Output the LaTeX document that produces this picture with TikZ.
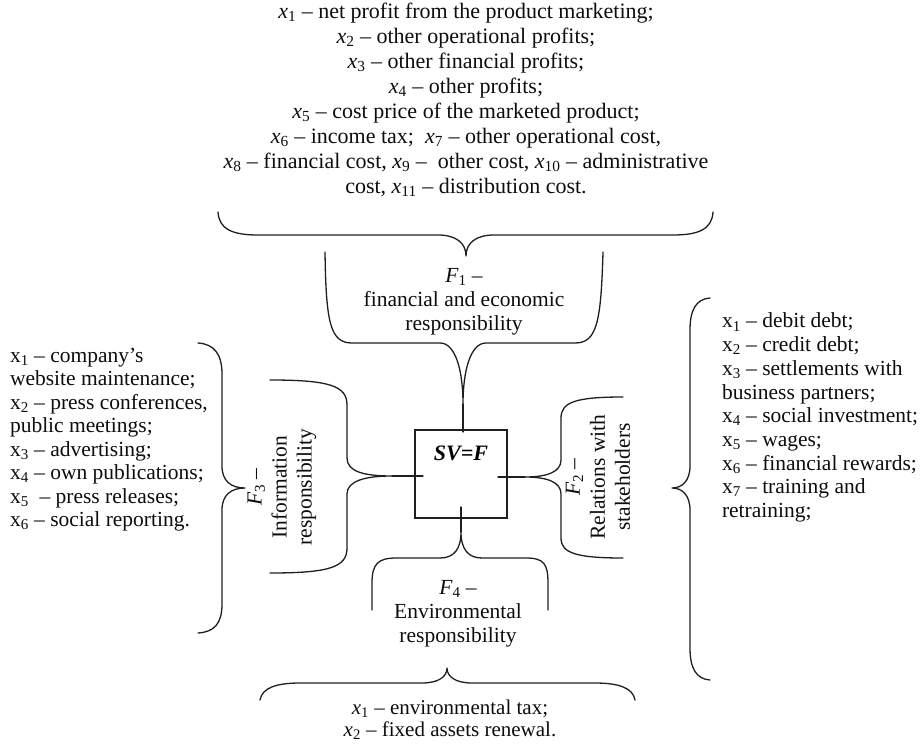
\documentclass[tikz,border=0pt]{standalone}
\usepackage{fontspec}
\setmainfont{Liberation Serif}
% italic and upright indexed variables, factor labels
\newcommand{\vx}[1]{\textit{x}\textsubscript{#1}}
\newcommand{\ux}[1]{x\textsubscript{#1}}
\newcommand{\fv}[1]{\textit{F}\textsubscript{#1}}
\begin{document}
\begin{tikzpicture}[x=1pt,y=-1pt,
  every node/.style={inner sep=0pt, outer sep=0pt},
  txt/.style={font=\fontsize{21.5}{23.5}\selectfont, text=black!95},
  toptxt/.style={font=\fontsize{22}{25}\selectfont, text=black!95},
  curly/.style={line width=1.3pt, draw=black!88, line join=round, line cap=round},
]
\useasboundingbox (0,0) rectangle (920,746);

% central square
\node[draw=black!88, line width=1.3pt, minimum width=92pt, minimum height=88pt] (box) at (461,474) {};
\node[font=\bfseries\itshape\fontsize{22}{26}\selectfont] (sv) at (461,453) {SV=F};

% list of financial indicators
\node[toptxt, align=center, anchor=north] (topx) at (466,3) {%
\vx{1} – net profit from the product marketing;\\
\vx{2} – other operational profits;\\
\vx{3} – other financial profits;\\
\vx{4} – other profits;\\
\vx{5} – cost price of the marketed product;\\
\vx{6} – income tax;\ \ \vx{7} – other operational cost,\\
\vx{8} – financial cost, \vx{9} –\ \ other cost, \vx{10} – administrative\\
cost, \vx{11} – distribution cost.};

% brace under the financial list
\draw[curly] (218,212) .. controls (219,229) and (232,235) .. (258,235)
  -- (438,235) .. controls (456,235) and (466,243) .. (466,256)
  .. controls (466,243) and (476,235) .. (494,235)
  -- (673,235) .. controls (699,235) and (712,229) .. (713,212);

% F1 bracket
\node[txt, align=center, font=\fontsize{21.5}{24}\selectfont] (f1) at (464,302)
  {\fv{1} –\\financial and economic\\responsibility};
\coordinate (t1) at (463,432);
\draw[curly] (325,252) .. controls (326,322) and (330,343) .. (352,343)
  -- (440,343) .. controls (456,343) and (463,372) .. (463,404)
  .. controls (463,372) and (470,343) .. (486,343)
  -- (575,343) .. controls (597,343) and (601,322) .. (603,252);
\draw[curly] (463,404) -- (t1);

% F3 bracket
\node[txt, align=center, rotate=90, font=\fontsize{21.5}{25}\selectfont] (f3) at (282,487)
  {\fv{3} –\\Information\\responsibility};
\coordinate (t3) at (423,476);
\draw[curly] (270,380) .. controls (330,380) and (347,386) .. (347,405)
  -- (347,458) .. controls (347,472) and (365,476) .. (392,476)
  .. controls (365,476) and (347,481) .. (347,494)
  -- (347,548) .. controls (347,567) and (330,573) .. (270,573);
\draw[curly] (392,476) -- (t3);

% F2 bracket
\node[txt, align=center, rotate=90, font=\fontsize{21.5}{25}\selectfont] (f2) at (598,477)
  {\fv{2} –\\Relations with\\stakeholders};
\coordinate (t2) at (498,477);
\draw[curly] (623,397) .. controls (576,397) and (561,402) .. (561,418)
  -- (561,460) .. controls (561,472) and (547,477) .. (525,477)
  .. controls (547,477) and (561,482) .. (561,494)
  -- (561,538) .. controls (561,553) and (576,558) .. (623,558);
\draw[curly] (525,477) -- (t2);

% F4 bracket
\node[txt, align=center, font=\fontsize{21.5}{24}\selectfont] (f4) at (458,614)
  {\fv{4} –\\Environmental\\responsibility};
\coordinate (t4) at (461,507);
\draw[curly] (372,610) -- (372,583) .. controls (372,564) and (378,558) .. (396,558)
  -- (440,558) .. controls (454,558) and (461,549) .. (461,532)
  .. controls (461,549) and (468,558) .. (482,558)
  -- (526,558) .. controls (544,558) and (548,564) .. (548,583) -- (548,610);
\draw[curly] (461,532) -- (t4);

% environmental indicators
\draw[curly] (260,700) .. controls (262,688) and (276,683) .. (300,683)
  -- (422,683) .. controls (438,683) and (447,677) .. (447,668)
  .. controls (447,677) and (456,683) .. (472,683)
  -- (595,683) .. controls (619,683) and (633,688) .. (635,700);
\node[txt, align=center, anchor=north, font=\fontsize{21}{21.5}\selectfont] (botx) at (450,700)
  {\vx{1} – environmental tax;\\\vx{2} – fixed assets renewal.};

% information indicators
\draw[curly] (198,343) .. controls (214,344) and (222,354) .. (222,374)
  -- (222,466) .. controls (222,481) and (231,488) .. (245,488)
  .. controls (231,488) and (222,495) .. (222,510)
  -- (222,604) .. controls (222,624) and (214,632) .. (198,633);
\node[txt, align=left, anchor=north west] (leftx) at (10,348) {%
\ux{1} – company’s\\
website maintenance;\\
\ux{2} – press conferences,\\
public meetings;\\
\ux{3} – advertising;\\
\ux{4} – own publications;\\
\ux{5}\ \ – press releases;\\
\ux{6} – social reporting.};

% stakeholder indicators
\draw[curly] (710,298) .. controls (696,299) and (690,310) .. (690,330)
  -- (690,466) .. controls (690,481) and (682,488) .. (672,488)
  .. controls (682,488) and (690,495) .. (690,510)
  -- (690,648) .. controls (690,668) and (696,679) .. (710,680);
\node[txt, align=left, anchor=north west, font=\fontsize{21.5}{23.7}\selectfont] (rightx) at (722,313) {%
\ux{1} – debit debt;\\
\ux{2} – credit debt;\\
\ux{3} – settlements with\\
business partners;\\
\ux{4} – social investment;\\
\ux{5} – wages;\\
\ux{6} – financial rewards;\\
\ux{7} – training and\\
retraining;};
\end{tikzpicture}
\end{document}
